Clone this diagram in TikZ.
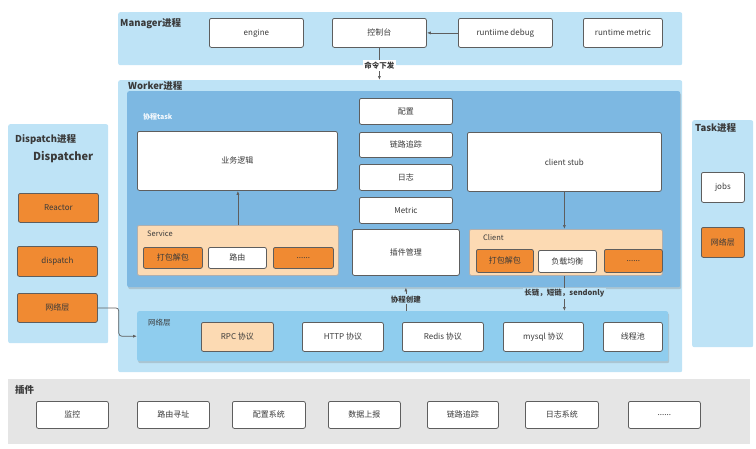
\documentclass[tikz,border=0pt]{standalone}
\usepackage{fontspec}
\setmainfont{Noto Sans CJK SC}
\usetikzlibrary{arrows.meta, positioning, shadows}
\definecolor{bgblue}{HTML}{BEE3F6}
\definecolor{taskblue}{HTML}{7DB8E2}
\definecolor{netblue}{HTML}{8FCDEE}
\definecolor{boxorange}{HTML}{F08A32}
\definecolor{peach}{HTML}{FCDAB3}
\definecolor{plugray}{HTML}{E5E5E5}
\definecolor{linegray}{HTML}{5E5E5E}
\definecolor{txtgray}{HTML}{3A3A3A}
\tikzset{
    dims/.style 2 args={
        minimum width=#1,
        minimum height=#2
    },
    group/.style={
        fill=bgblue,
        rounded corners=2pt,
        inner sep=0pt,
        anchor=north west
    },
    block/.style={
        draw=linegray,
        line width=0.8pt,
        fill=white,
        rounded corners=2pt,
        inner sep=0pt,
        anchor=north west,
        text=txtgray,
        font=\fontsize{8}{9}\selectfont
    },
    hot/.style={
        block,
        fill=boxorange
    },
    soft/.style={
        block,
        fill=peach,
        draw=linegray!50
    },
    title/.style={
        anchor=west,
        inner sep=0pt,
        text=txtgray,
        font=\fontsize{9.5}{11}\selectfont\bfseries
    },
    note/.style={
        inner sep=1.5pt,
        text=txtgray,
        font=\fontsize{7.5}{9}\selectfont\bfseries
    },
    arrow/.style={
        -{Latex[length=4pt,width=3pt]},
        draw=linegray,
        line width=0.7pt
    }
}

\begin{document}
\begin{tikzpicture}[x=1pt, y=-1pt]
    \useasboundingbox (0,0) rectangle (756,448);

    % Manager
    \node (manager) [group, dims={564}{53}] at (118,12) {};
    \node (managerTitle) [title] at (120,24) {Manager进程};
    \node (engine) [block, dims={94}{29}] at (209,18) {engine};
    \node (console) [block, dims={94}{29}] at (332,18) {控制台};
    \node (rdebug) [block, dims={94}{29}] at (458,18) {runtiime debug};
    \node (rmetric) [block, dims={79}{29}] at (583,18) {runtime metric};

    % Worker
    \node (worker) [group, dims={564}{292}] at (118,80) {};
    \node (workerTitle) [title] at (128,86) {Worker进程};
    \node (task) [
        group,
        fill=taskblue,
        dims={553}{196},
        drop shadow={shadow xshift=1pt, shadow yshift=-2pt, opacity=0.3}
    ] at (127,91) {};
    \node (taskTitle) [title, text=white!92!taskblue, font=\fontsize{7}{8}\selectfont\bfseries] at (143,117) {协程task};
    \node (logic) [block, dims={200}{59}] at (137,131) {业务逻辑};
    \node (service) [soft, dims={201}{50}] at (137,225) {};
    \node (serviceTitle) [title, font=\fontsize{7.5}{9}\selectfont] at (147,234) {Service};
    \node (svcPack) [hot, dims={59}{21}] at (143,247) {打包解包};
    \node (svcRoute) [block, dims={58}{21}] at (208,247) {路由};
    \node (svcMore) [hot, dims={60}{21}] at (273,247) {......};

    \node (config) [block, dims={93}{26}] at (359,98) {配置};
    \node (trace) [block, dims={93}{25}] at (359,132) {链路追踪};
    \node (logging) [block, dims={93}{26}] at (359,164) {日志};
    \node (metric) [block, dims={93}{26}] at (359,197) {Metric};
    \node (plugMgr) [block, dims={107}{46}] at (352,229) {插件管理};

    \node (stub) [block, dims={194}{59}] at (467,132) {client stub};
    \node (client) [soft, dims={193}{46}] at (469,229) {};
    \node (clientTitle) [title, font=\fontsize{7.5}{9}\selectfont] at (483,238) {Client};
    \node (cliPack) [hot, dims={57}{23}] at (476,249) {打包解包};
    \node (cliLB) [block, dims={58}{22}] at (538,250) {负载均衡};
    \node (cliMore) [hot, dims={58}{23}] at (604,249) {......};

    % Network layer
    \node (netlayer) [
        group,
        fill=netblue,
        dims={531}{50},
        drop shadow={shadow xshift=1pt, shadow yshift=-2pt, opacity=0.3}
    ] at (137,311) {};
    \node (netTitle) [title, font=\fontsize{7.5}{9}\selectfont] at (148,323) {网络层};
    \node (rpc) [soft, draw=linegray, dims={72}{29}] at (201,322) {RPC 协议};
    \node (http) [block, dims={81}{29}] at (302,322) {HTTP 协议};
    \node (redis) [block, dims={81}{29}] at (402,322) {Redis 协议};
    \node (mysql) [block, dims={80}{29}] at (503,322) {mysql 协议};
    \node (pool) [block, dims={59}{29}] at (603,322) {线程池};

    % Dispatch
    \node (dispatcher) [group, dims={100}{219}] at (8,124) {};
    \node (dispatchTitle) [title] at (15,139) {Dispatch进程};
    \node (dispatchName) [title, font=\fontsize{11}{13}\selectfont\bfseries] at (33,157) {Dispatcher};
    \node (reactor) [hot, dims={80}{29}] at (18,193) {Reactor};
    \node (dispatch) [hot, dims={80}{30}] at (17,246) {dispatch};
    \node (dnet) [hot, dims={80}{29}] at (17,293) {网络层};

    % Task
    \node (taskproc) [group, dims={61}{227}] at (692,120) {};
    \node (taskprocTitle) [title] at (695,128) {Task进程};
    \node (jobs) [block, dims={43}{30}] at (701,172) {jobs};
    \node (tnet) [hot, dims={43}{30}] at (701,227) {网络层};

    % Plugins
    \node (plugins) [group, fill=plugray, rounded corners=0pt, dims={742}{65}] at (8,379) {};
    \node (pluginsTitle) [title] at (15,390) {插件};
    \node (monitor) [block, dims={72}{27}] at (36,401) {监控};
    \node (routing) [block, dims={72}{27}] at (137,401) {路由寻址};
    \node (cfgsys) [block, dims={73}{27}] at (232,401) {配置系统};
    \node (report) [block, dims={72}{27}] at (328,401) {数据上报};
    \node (tracing) [block, dims={71}{27}] at (427,401) {链路追踪};
    \node (logsys) [block, dims={73}{27}] at (525,401) {日志系统};
    \node (etc) [block, dims={72}{27}] at (628,401) {......};

    % Connectors
    \draw [arrow] (rdebug) -- (console);
    \draw [arrow] (console.south) -- (console.south |- worker.north)
        node [note, pos=0.55, fill=white] {命令下发};
    \draw [arrow] (service.north) -- (service.north |- logic.south);
    \draw [arrow] (stub.south) -- (stub.south |- client.north);
    \draw [arrow] (plugMgr.south |- netlayer.north) -- (plugMgr.south |- task.south)
        node [note, midway, fill=bgblue] {协程创建};
    \draw [arrow] (stub.south |- client.south) -- (stub.south |- netlayer.north)
        node [note, midway, fill=bgblue] {长链，短链，sendonly};
    \draw [arrow, rounded corners=3pt] (dnet.east) -- ++(21,0) |- (netlayer.west);
\end{tikzpicture}
\end{document}
